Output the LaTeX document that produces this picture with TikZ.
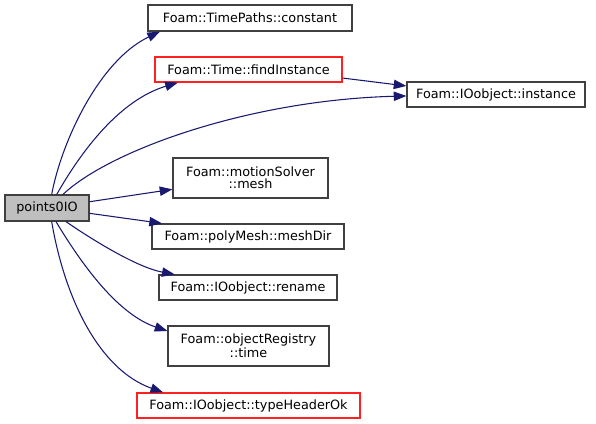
\documentclass[tikz,border=0pt]{standalone}
\usepackage{fontspec}
\setmainfont{DejaVu Sans}
\usetikzlibrary{arrows.meta}
\definecolor{edgeblue}{HTML}{191970}
\definecolor{boxgray}{HTML}{404040}
\definecolor{boxred}{HTML}{FF2020}
\tikzset{
  box/.style={draw=boxgray, fill=white, line width=0.9pt, inner sep=0pt, font=\fontsize{9.6pt}{8.8pt}\selectfont, align=center},
  redbox/.style={box, draw=boxred},
  rootbox/.style={box, fill=black!25},
  edge/.style={draw=edgeblue, line width=0.8pt, -{Triangle[length=9.5pt,width=7pt]}},
}
\begin{document}
\begin{tikzpicture}[x=0.75pt,y=-0.75pt]
\useasboundingbox (0,0) rectangle (596,424);
\node[rootbox, minimum width=63pt, minimum height=19.5pt] (p) at (47,208) {points0IO};
\node[box, minimum width=153pt, minimum height=19.5pt] (c) at (250,18) {Foam::TimePaths::constant};
\node[redbox, minimum width=140.25pt, minimum height=18.75pt] (f) at (248.5,69.5) {Foam::Time::findInstance};
\node[box, minimum width=133.5pt, minimum height=18.75pt] (i) at (496,94.5) {Foam::IOobject::instance};
\node[box, minimum width=116.25pt, minimum height=30pt] (m) at (250.5,178) {Foam::motionSolver\\::mesh};
\node[box, minimum width=144pt, minimum height=18.75pt] (d) at (248,236.5) {Foam::polyMesh::meshDir};
\node[box, minimum width=133.5pt, minimum height=18.75pt] (r) at (248,287.5) {Foam::IOobject::rename};
\node[box, minimum width=120.75pt, minimum height=30pt] (t) at (248.5,346) {Foam::objectRegistry\\::time};
\node[redbox, minimum width=167.25pt, minimum height=18.75pt] (h) at (248.5,405.5) {Foam::IOobject::typeHeaderOk};
\draw[edge] ([xshift=3.5pt]p.north) .. controls (62,140) and (100,60) .. ([xshift=-67.5pt]c.south);
\draw[edge] ([xshift=7.3pt]p.north) .. controls (82,150) and (120,100) .. ([xshift=-53pt]f.south);
\draw[edge] ([xshift=12pt]p.north) .. controls (110,150) and (250,100) .. ([yshift=-1.1pt]i.west);
\draw[edge] ([yshift=-6.4pt]f.east) -- ([yshift=6.4pt]i.west);
\draw[edge] ([yshift=4.7pt]p.east) -- ([yshift=-8.5pt]m.west);
\draw[edge] ([yshift=-4pt]p.east) -- ([xshift=-64.5pt]d.north);
\draw[edge] ([xshift=14.2pt]p.south) .. controls (100,245) and (140,268) .. ([xshift=-55pt]r.north);
\draw[edge] ([xshift=6.75pt]p.south) .. controls (85,270) and (120,315) .. ([yshift=11.25pt]t.west);
\draw[edge] ([xshift=3.5pt]p.south) .. controls (65,300) and (100,370) .. ([xshift=-64pt]h.north);
\end{tikzpicture}
\end{document}
